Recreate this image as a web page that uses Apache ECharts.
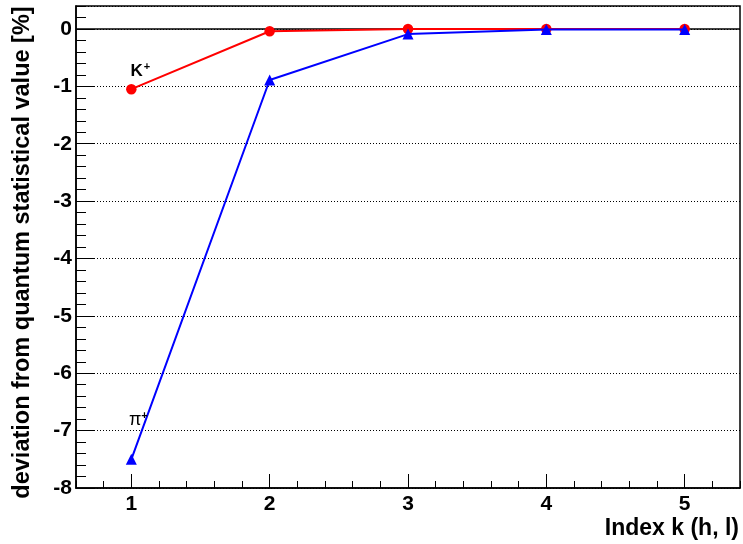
<!DOCTYPE html>
<html>
<head>
<meta charset="utf-8">
<script src="https://cdn.jsdelivr.net/npm/echarts@6/dist/echarts.min.js"></script>
<style>
  html, body { margin: 0; padding: 0; background: #fff; }
  #chart { width: 743px; height: 544px; }
</style>
</head>
<body>
<div id="chart"></div>
<script>
// Index k of the (h, l) term
const indexK = [1, 2, 3, 4, 5];
// Deviation from the quantum statistical value, in percent
const kaonDeviation = [-1.05, -0.04, 0.0, 0.0, 0.0];
const pionDeviation = [-7.5, -0.89, -0.09, -0.01, -0.01];

const xRange = [0.6, 5.4];
const yRange = [-8, 0.4];
const xMajorTicks = [1, 5];

const FONT = "'Liberation Sans', Arial, Helvetica, sans-serif";

// Frame of the plotting area (pixels from the edges)
const frame = { left: 76, right: 3, top: 6, bottom: 56 };
const plotWidth = 743 - frame.left - frame.right;
const pxPerUnit = plotWidth / (xRange[1] - xRange[0]);
// second grid spans only the integer ticks so their spacing starts at 1
const majorGrid = {
  left: frame.left + (xMajorTicks[0] - xRange[0]) * pxPerUnit,
  right: frame.right + (xRange[1] - xMajorTicks[1]) * pxPerUnit,
  top: frame.top,
  bottom: frame.bottom
};

const chart = echarts.init(document.getElementById('chart'), null, { renderer: 'canvas' });

function pointsOf(values) {
  return indexK.map((k, i) => [k, values[i]]);
}

const kaonData = pointsOf(kaonDeviation);
kaonData[0] = {
  value: kaonData[0],
  label: {
    show: true,
    position: 'top',
    distance: 5,
    offset: [9, 1],
    formatter: '{b|K}{s|+}',
    rich: {
      b: { fontSize: 17, fontWeight: 'bold', fontFamily: FONT, color: '#000', lineHeight: 18 },
      s: { fontSize: 11, fontWeight: 'bold', fontFamily: FONT, color: '#000', verticalAlign: 'top', lineHeight: 18, padding: [0, 0, 6, 1] }
    }
  }
};

const pionData = pointsOf(pionDeviation);
pionData[0] = {
  value: pionData[0],
  label: {
    show: true,
    position: 'top',
    distance: 5,
    offset: [7, -20],
    formatter: '{b|\u03c0}{s|+}',
    rich: {
      b: { fontSize: 18, fontFamily: FONT, color: '#000', lineHeight: 18 },
      s: { fontSize: 11, fontWeight: 'bold', fontFamily: FONT, color: '#000', verticalAlign: 'top', lineHeight: 18, padding: [0, 0, 6, 0] }
    }
  }
};

const tickLabelStyle = { color: '#000', fontSize: 21, fontWeight: 'bold', fontFamily: FONT };

chart.setOption({
  animation: false,
  backgroundColor: '#fff',
  grid: [
    Object.assign({ show: true, borderColor: '#000', borderWidth: 1.5, backgroundColor: 'transparent' }, frame),
    Object.assign({ show: false }, majorGrid)
  ],
  xAxis: [
    {
      // minor ticks every 0.2
      type: 'value', gridIndex: 0, position: 'bottom', min: xRange[0], max: xRange[1], interval: 0.2,
      axisLine: { show: true, onZero: false, lineStyle: { color: '#000', width: 1.5 } },
      axisTick: { show: true, inside: true, length: 7, lineStyle: { color: '#000', width: 1 } },
      axisLabel: { show: false },
      splitLine: { show: false },
      name: 'Index k (h, l)',
      nameLocation: 'end',
      nameGap: -1,
      nameTextStyle: {
        color: '#000', fontSize: 23, fontWeight: 'bold', fontFamily: FONT,
        align: 'right', verticalAlign: 'top', padding: [29, 0, 0, 0]
      }
    },
    {
      // major ticks and labels on the integers
      type: 'value', gridIndex: 1, position: 'bottom', min: xMajorTicks[0], max: xMajorTicks[1], interval: 1,
      axisLine: { show: false, onZero: false },
      axisTick: { show: true, inside: true, length: 14, lineStyle: { color: '#000', width: 1 } },
      axisLabel: Object.assign({ show: true, margin: 6 }, tickLabelStyle),
      splitLine: { show: false }
    }
  ],
  yAxis: [
    {
      // minor ticks every 0.2
      type: 'value', gridIndex: 0, position: 'left', min: yRange[0], max: yRange[1], interval: 0.2,
      axisLine: { show: true, onZero: false, lineStyle: { color: '#000', width: 1.5 } },
      axisTick: { show: true, inside: true, length: 10, lineStyle: { color: '#000', width: 1 } },
      axisLabel: { show: false },
      splitLine: { show: false }
    },
    {
      // major ticks, labels and dotted grid on the integers
      type: 'value', gridIndex: 0, position: 'left', offset: 0, min: yRange[0], max: yRange[1], interval: 1,
      axisLine: { show: false, onZero: false },
      axisTick: { show: true, inside: true, length: 19, lineStyle: { color: '#000', width: 1 } },
      axisLabel: Object.assign({ show: true, margin: 4, showMaxLabel: false }, tickLabelStyle),
      splitLine: { show: true, lineStyle: { color: '#000', width: 1, type: [1, 2] } },
      name: 'deviation from quantum statistical value [%]',
      nameLocation: 'middle',
      nameRotate: 90,
      nameGap: 41,
      nameTextStyle: {
        color: '#000', fontSize: 23.5, fontWeight: 'bold', fontFamily: FONT,
        padding: [0, 11, 0, 0]
      }
    },
    {
      type: 'value', gridIndex: 1, min: yRange[0], max: yRange[1], show: false
    }
  ],
  series: [
    {
      name: 'K+',
      type: 'line',
      xAxisIndex: 0, yAxisIndex: 0,
      data: kaonData,
      symbol: 'circle',
      symbolSize: 10.5,
      lineStyle: { color: '#ff0000', width: 2 },
      itemStyle: { color: '#ff0000' },
      z: 3,
      markLine: {
        silent: true,
        symbol: 'none',
        label: { show: false },
        lineStyle: { color: '#000', width: 1.5, type: 'solid' },
        data: [{ yAxis: 0 }],
        z: 2
      }
    },
    {
      name: '\u03c0+',
      type: 'line',
      xAxisIndex: 0, yAxisIndex: 0,
      data: pionData,
      symbol: 'triangle',
      symbolSize: 11,
      lineStyle: { color: '#0000ff', width: 2 },
      itemStyle: { color: '#0000ff' },
      z: 4
    }
  ]
});
</script>
</body>
</html>
